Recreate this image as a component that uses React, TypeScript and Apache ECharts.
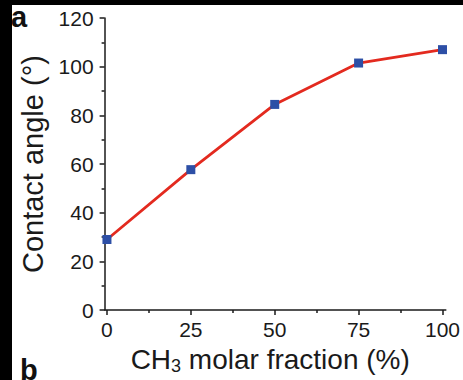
import React, { useEffect, useRef } from "react";
import * as echarts from "echarts";

const molarFraction = [0, 25, 50, 75, 100];
const contactAngle = [29, 57.7, 84.5, 101.5, 107];
const xMajorTicks = [0, 25, 50, 75, 100];
const xMinorTicks = [12.5, 37.5, 62.5, 87.5];

const FONT = "'Liberation Sans', Arial, Helvetica, sans-serif";
const INK = "#1a1a1a";

export default function App() {
  const ref = useRef<HTMLDivElement>(null);

  useEffect(() => {
    if (!ref.current) return;
    const chart = echarts.init(ref.current, null, { renderer: "svg" });
    const points = molarFraction.map((x, i) => [x, contactAngle[i]]);
    const axisLine = { show: true, onZero: false, lineStyle: { color: INK, width: 1.5 } };
    chart.setOption({
      animation: false,
      backgroundColor: "transparent",
      grid: { left: 104.6, right: 14.6, top: 18, bottom: 66, containLabel: false },
      xAxis: [
        {
          type: "value",
          min: -0.7,
          max: 101,
          position: "bottom",
          axisLine,
          splitLine: { show: false },
          axisTick: { show: true, inside: false, length: 5, customValues: xMajorTicks, lineStyle: { color: INK, width: 1.5 } },
          axisLabel: {
            customValues: xMajorTicks,
            color: INK,
            fontFamily: FONT,
            fontSize: 21,
            margin: 9,
          },
          name: "{a|CH}{s|3}{a| molar fraction (%)}",
          nameLocation: "middle",
          nameGap: 29,
          nameTextStyle: {
            color: INK,
            fontFamily: FONT,
            lineHeight: 40,
            padding: [0, 10, 0, 0],
            rich: {
              a: { fontSize: 28, fontFamily: FONT, color: INK, lineHeight: 30, verticalAlign: "top" },
              s: { fontSize: 18, fontFamily: FONT, color: INK, lineHeight: 20, verticalAlign: "bottom" },
            },
          },
        },
        {
          type: "value",
          min: -0.7,
          max: 101,
          position: "bottom",
          axisLine: { show: false, onZero: false },
          splitLine: { show: false },
          axisTick: { show: true, inside: false, length: 3, customValues: xMinorTicks, lineStyle: { color: INK, width: 1.5 } },
          axisLabel: { show: false },
        },
      ],
      yAxis: {
        type: "value",
        min: 0,
        max: 120,
        interval: 20,
        axisLine,
        splitLine: { show: false },
        axisTick: { show: true, inside: false, length: 5, lineStyle: { color: INK, width: 1.5 } },
        minorTick: { show: true, splitNumber: 2, length: 3, lineStyle: { color: INK, width: 1.5 } },
        axisLabel: { color: INK, fontFamily: FONT, fontSize: 21, margin: 11 },
        name: "Contact angle (°)",
        nameLocation: "middle",
        nameGap: 47,
        nameRotate: 90,
        nameTextStyle: { color: INK, fontFamily: FONT, fontSize: 29 },
      },
      graphic: [
        {
          type: "text",
          left: 11,
          top: 2,
          style: { text: "a", fontFamily: FONT, fontWeight: "bold", fontSize: 29, fill: "#111" },
        },
        {
          type: "text",
          left: 20,
          top: 355,
          style: { text: "b", fontFamily: FONT, fontWeight: "bold", fontSize: 29, fill: "#111" },
        },
      ],
      series: [
        {
          type: "line",
          xAxisIndex: 0,
          data: points,
          symbol: "rect",
          symbolSize: 9,
          itemStyle: { color: "#2d4fa6" },
          lineStyle: { color: "#e32a1f", width: 2.8 },
          z: 5,
        },
      ],
    });
    return () => chart.dispose();
  }, []);

  return (
    <div style={{ position: "fixed", left: 0, top: 0, width: 463, height: 380, background: "#fff", overflow: "hidden" }}>
      <div ref={ref} style={{ position: "absolute", left: 0, top: 0, width: 463, height: 380 }} />
      <div style={{ position: "absolute", left: 0, top: 0, width: 12, height: 380, background: "#000" }} />
      <div style={{ position: "absolute", left: 0, top: 0, width: 463, height: 5, background: "#000" }} />
    </div>
  );
}
